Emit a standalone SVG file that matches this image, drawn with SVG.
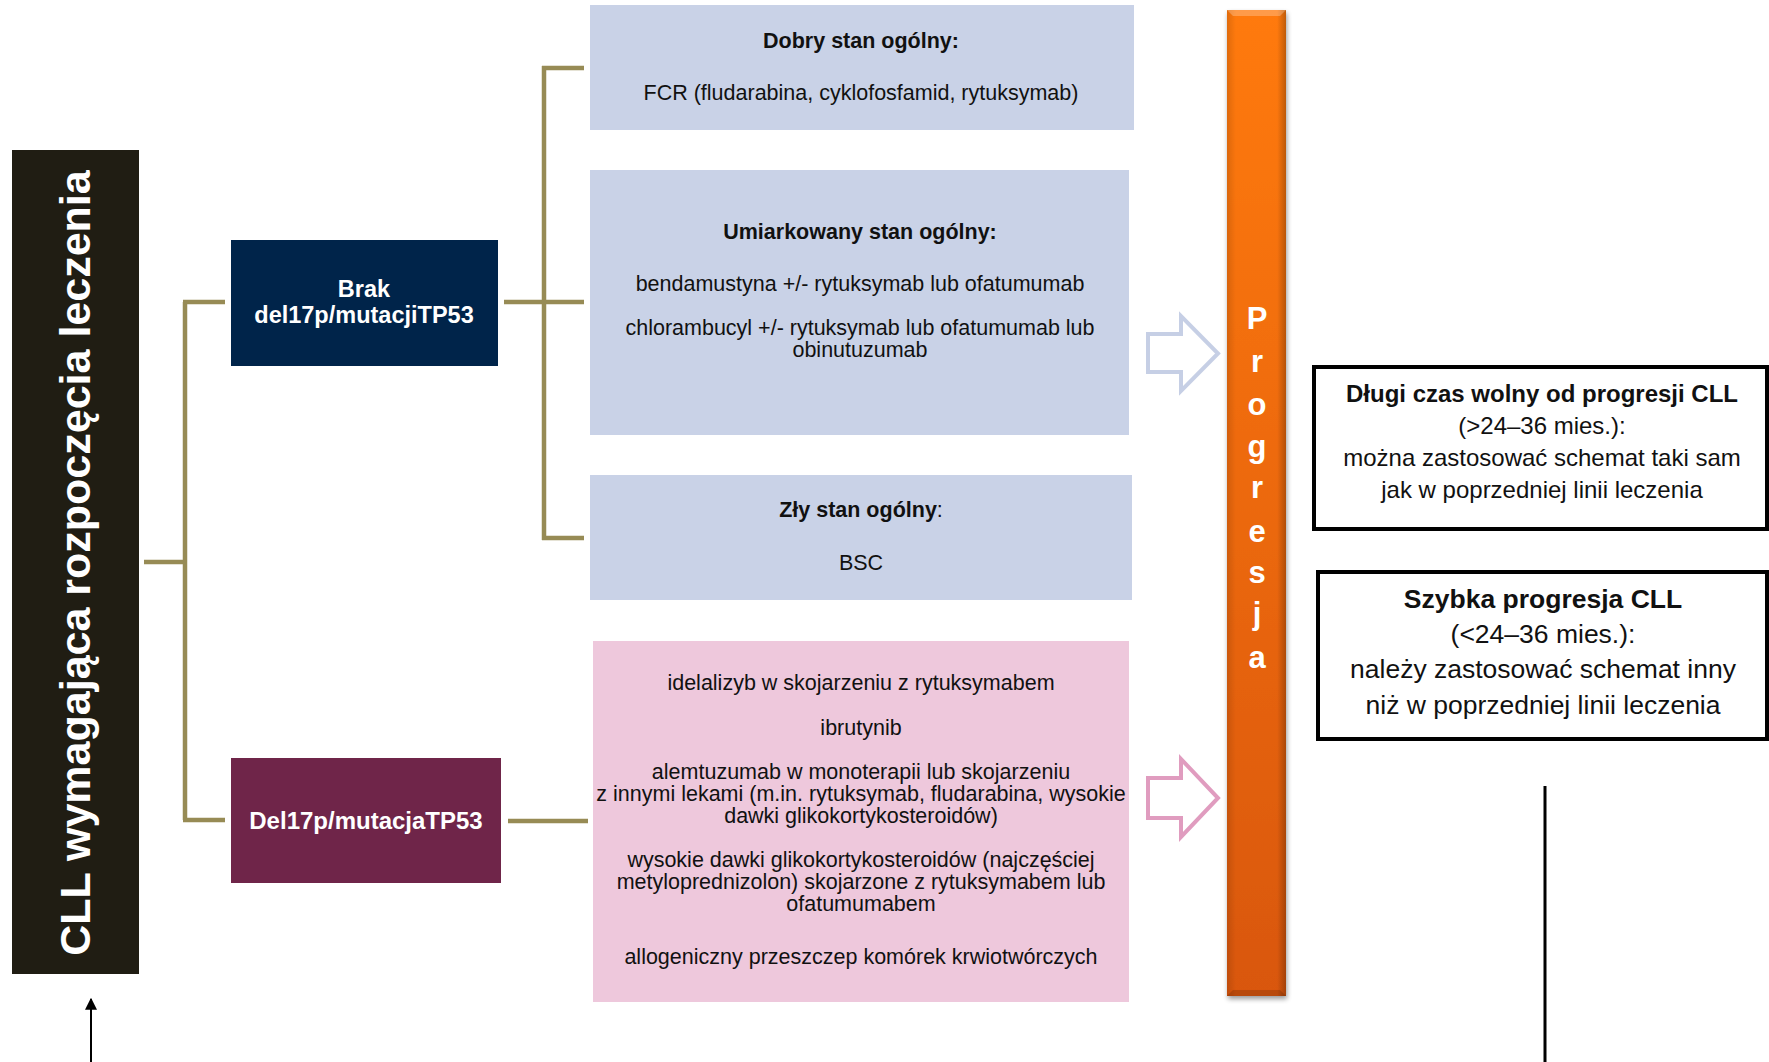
<svg xmlns="http://www.w3.org/2000/svg" width="1769" height="1062" viewBox="0 0 1769 1062">
<style>
text{font-family:"Liberation Sans",Arial,sans-serif;}
.conn{stroke:#978b55;stroke-width:4.5;fill:none;}
.bt{font-size:21.5px;fill:#111;text-anchor:middle;}
.b{font-weight:bold;}
.wt{fill:#fff;font-weight:bold;text-anchor:middle;}
.blue{fill:#c9d2e7;}
.rt{font-size:24px;fill:#111;text-anchor:middle;}
.rt2{font-size:26.5px;fill:#111;text-anchor:middle;}
.outl{fill:#fff;stroke:#000;stroke-width:4;}
</style>
<defs>
<linearGradient id="og" x1="0" y1="0" x2="0" y2="1">
<stop offset="0" stop-color="#ff7a10"/>
<stop offset="1" stop-color="#d9570a"/>
</linearGradient>
<linearGradient id="oh" x1="0" y1="0" x2="1" y2="0">
<stop offset="0" stop-color="#000" stop-opacity="0.12"/>
<stop offset="0.15" stop-color="#000" stop-opacity="0"/>
<stop offset="0.85" stop-color="#000" stop-opacity="0"/>
<stop offset="1" stop-color="#000" stop-opacity="0.25"/>
</linearGradient>
<filter id="sh" x="-20%" y="-5%" width="150%" height="110%">
<feGaussianBlur in="SourceAlpha" stdDeviation="2.5"/>
<feOffset dx="1" dy="3"/>
<feComponentTransfer><feFuncA type="linear" slope="0.4"/></feComponentTransfer>
<feMerge><feMergeNode/><feMergeNode in="SourceGraphic"/></feMerge>
</filter>
<marker id="ah" viewBox="0 0 10 10" refX="9" refY="5" markerWidth="6" markerHeight="6" orient="auto">
<path d="M0,0 L10,5 L0,10 Z" fill="#000"/>
</marker>
</defs>
<rect width="1769" height="1062" fill="#fff"/>

<g id="connectors">
<path class="conn" d="M144,562 H185"/>
<path class="conn" d="M185,302 V820"/>
<path class="conn" d="M183,302 H225"/>
<path class="conn" d="M183,820 H225"/>
<path class="conn" d="M504,302 H584"/>
<path class="conn" d="M544,66 V540"/>
<path class="conn" d="M542,68 H584"/>
<path class="conn" d="M542,538 H584"/>
<path class="conn" d="M508,821 H588"/>
<path d="M1148,334 H1181 V316 L1218,353.5 L1181,391 V372 H1148 Z" fill="#fff" stroke="#c6cfe5" stroke-width="4"/>
<path d="M1148,778 H1181 V759 L1218,798 L1181,837 V818 H1148 Z" fill="#fff" stroke="#e09cbf" stroke-width="4"/>
<line x1="91" y1="1062" x2="91" y2="999" stroke="#000" stroke-width="2" marker-end="url(#ah)"/>
<line x1="1545" y1="786" x2="1545" y2="1062" stroke="#000" stroke-width="3"/>
</g>

<g id="node-cll">
<rect x="12" y="150" width="127" height="824" fill="#201d13"/>
<text class="wt" font-size="43" transform="translate(90,563) rotate(-90)">CLL wymagająca rozpoczęcia leczenia</text>
</g>

<g id="node-brak">
<rect x="231" y="240" width="267" height="126" fill="#00244a"/>
<text class="wt" font-size="23.5" x="364" y="297">Brak</text>
<text class="wt" font-size="23.5" x="364" y="323">del17p/mutacjiTP53</text>
</g>

<g id="node-del">
<rect x="231" y="758" width="270" height="125" fill="#6f2549"/>
<text class="wt" font-size="24" x="366" y="829">Del17p/mutacjaTP53</text>
</g>

<g id="node-dobry">
<rect class="blue" x="590" y="5" width="544" height="125"/>
<text class="bt b" x="861" y="48">Dobry stan ogólny:</text>
<text class="bt" x="861" y="100">FCR (fludarabina, cyklofosfamid, rytuksymab)</text>
</g>

<g id="node-umiark">
<rect class="blue" x="590" y="170" width="539" height="265"/>
<text class="bt b" x="860" y="239">Umiarkowany stan ogólny:</text>
<text class="bt" x="860" y="291">bendamustyna +/- rytuksymab lub ofatumumab</text>
<text class="bt" x="860" y="335">chlorambucyl +/- rytuksymab lub ofatumumab lub</text>
<text class="bt" x="860" y="357">obinutuzumab</text>
</g>

<g id="node-zly">
<rect class="blue" x="590" y="475" width="542" height="125"/>
<text class="bt" x="861" y="517"><tspan font-weight="bold">Zły stan ogólny</tspan>:</text>
<text class="bt" x="861" y="570">BSC</text>
</g>

<g id="node-pink">
<rect x="593" y="641" width="536" height="361" fill="#eec8dc"/>
<text class="bt" x="861" y="690">idelalizyb w skojarzeniu z rytuksymabem</text>
<text class="bt" x="861" y="735">ibrutynib</text>
<text class="bt" x="861" y="779">alemtuzumab w monoterapii lub skojarzeniu</text>
<text class="bt" x="861" y="801">z innymi lekami (m.in. rytuksymab, fludarabina, wysokie</text>
<text class="bt" x="861" y="823">dawki glikokortykosteroidów)</text>
<text class="bt" x="861" y="867">wysokie dawki glikokortykosteroidów (najczęściej</text>
<text class="bt" x="861" y="889">metyloprednizolon) skojarzone z rytuksymabem lub</text>
<text class="bt" x="861" y="911">ofatumumabem</text>
<text class="bt" x="861" y="964">allogeniczny przeszczep komórek krwiotwórczych</text>
</g>

<g id="node-progresja">
<g filter="url(#sh)">
<rect x="1227" y="10" width="59" height="986" fill="url(#og)"/>
</g>
<rect x="1227" y="10" width="59" height="986" fill="url(#oh)"/>
<path d="M1227,10 H1286 L1280,16 H1233 Z" fill="#fff" fill-opacity="0.25"/>
<path d="M1227,996 H1286 L1280,990 H1233 Z" fill="#000" fill-opacity="0.15"/>
<g class="wt" font-size="31">
<text x="1257" y="329">P</text>
<text x="1257" y="372">r</text>
<text x="1257" y="415">o</text>
<text x="1257" y="457">g</text>
<text x="1257" y="498">r</text>
<text x="1257" y="542">e</text>
<text x="1257" y="583">s</text>
<text x="1257" y="624">j</text>
<text x="1257" y="668">a</text>
</g>
</g>

<g id="node-dlugi">
<rect class="outl" x="1314" y="367" width="453" height="162"/>
<text class="rt b" x="1542" y="402">Długi czas wolny od progresji CLL</text>
<text class="rt" x="1542" y="434">(&gt;24–36 mies.):</text>
<text class="rt" x="1542" y="466">można zastosować schemat taki sam</text>
<text class="rt" x="1542" y="498">jak w poprzedniej linii leczenia</text>
</g>

<g id="node-szybka">
<rect class="outl" x="1318" y="572" width="449" height="167"/>
<text class="rt2 b" x="1543" y="608">Szybka progresja CLL</text>
<text class="rt2" x="1543" y="643">(&lt;24–36 mies.):</text>
<text class="rt2" x="1543" y="678">należy zastosować schemat inny</text>
<text class="rt2" x="1543" y="714">niż w poprzedniej linii leczenia</text>
</g>
</svg>
